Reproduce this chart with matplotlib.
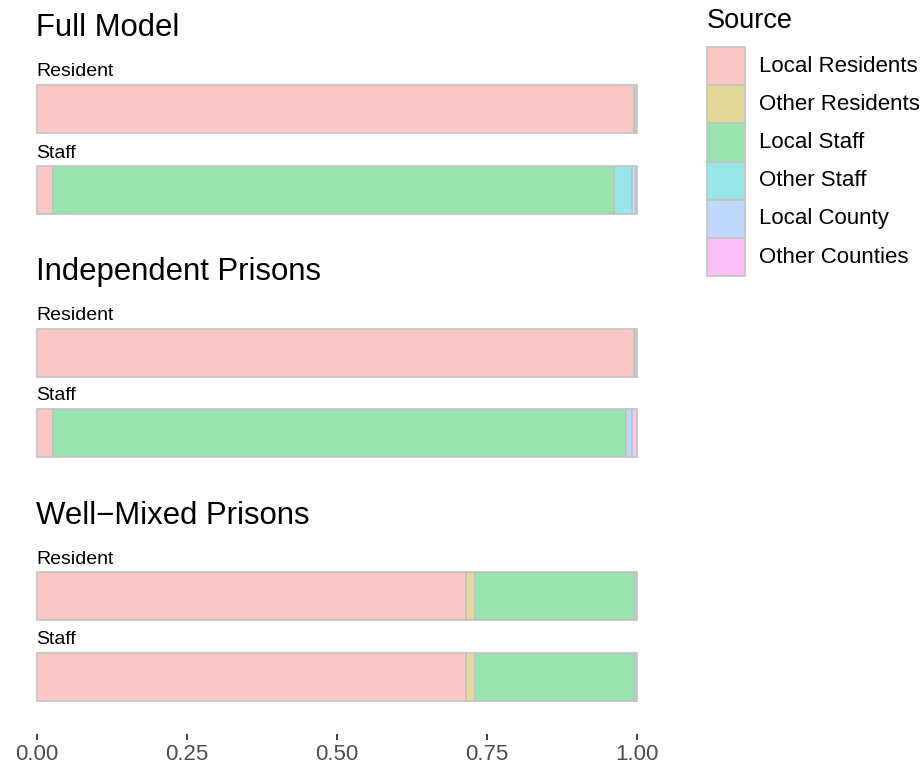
import numpy as np
import matplotlib.pyplot as plt
from matplotlib.patches import Rectangle

plt.rcParams['font.family'] = ['Liberation Sans', 'DejaVu Sans']

sources = ["Local Residents", "Other Residents", "Local Staff",
           "Other Staff", "Local County", "Other Counties"]
colors = ["#FCC8C5", "#E2D999", "#99E3AF", "#99E6E7", "#C0D7FF", "#FBC1F6"]

models = ["Full Model", "Independent Prisons", "Well\u2212Mixed Prisons"]
groups = ["Resident", "Staff"]

# share of infections by source, one row per group
full_model = [[0.995, 0.000, 0.005, 0.000, 0.000, 0.000],
              [0.028, 0.000, 0.934, 0.029, 0.008, 0.001]]
independent = [[0.995, 0.000, 0.005, 0.000, 0.000, 0.000],
               [0.027, 0.000, 0.954, 0.000, 0.011, 0.008]]
well_mixed = [[0.716, 0.014, 0.265, 0.003, 0.002, 0.000],
              [0.716, 0.014, 0.265, 0.003, 0.002, 0.000]]
shares = [full_model, independent, well_mixed]

xticks = [0, 0.25, 0.5, 0.75, 1.0]
xticklabels = ["0.00", "0.25", "0.50", "0.75", "1.00"]

W, H = 923, 767
fig = plt.figure(figsize=(W / 100, H / 100), dpi=100)

x0, x1 = 36.5, 637
# pixel tops of bars / titles
bar_tops = [[85, 166], [329, 409], [572, 653]]
bar_h = 48
title_y = [28, 272, 516]

def fx(px):
    return px / W

def fy(py):
    return 1 - py / H

edge = "#C2C2C2"
for m, model in enumerate(models):
    fig.text(fx(36), fy(title_y[m]), model, fontsize=22.4, va='center', ha='left')
    for g, grp in enumerate(groups):
        top = bar_tops[m][g]
        fig.text(fx(36), fy(top - 13), grp, fontsize=14, va='center', ha='left')
        ax = fig.add_axes([fx(x0), fy(top + bar_h), fx(x1 - x0), bar_h / H])
        vals = np.array(shares[m][g])
        left = np.concatenate([[0], np.cumsum(vals)[:-1]])
        for v, l, c in zip(vals, left, colors):
            if v <= 0:
                continue
            ax.barh([0], [v], left=[l], height=1, color=c, edgecolor=edge,
                    linewidth=1.2, clip_on=False)
        ax.set_xlim(0, 1)
        ax.set_ylim(-0.5, 0.5)
        ax.set_yticks([])
        for s in ax.spines.values():
            s.set_visible(False)
        if m == 2 and g == 1:
            ax.spines['bottom'].set_position(('outward', 24))
            ax.set_xticks(xticks)
            ax.set_xticklabels(xticklabels)
            ax.tick_params(axis='x', length=4.5, width=1.3, color='#333333',
                           labelcolor='#4D4D4D', labelsize=16, pad=2.5)
        else:
            ax.set_xticks([])

# legend
fig.text(fx(707), fy(21), "Source", fontsize=19.5, va='center', ha='left')
key_top, key_h, key_w = 47, 38.2, 38
for i, (src, c) in enumerate(zip(sources, colors)):
    y = key_top + i * key_h
    fig.patches.append(Rectangle((fx(707), fy(y + key_h)), fx(key_w), key_h / H,
                                 transform=fig.transFigure, facecolor=c,
                                 edgecolor=edge, linewidth=1.2))
    fig.text(fx(759), fy(y + key_h / 2), src, fontsize=16, va='center', ha='left')

fig.savefig("out.png", dpi=100)
